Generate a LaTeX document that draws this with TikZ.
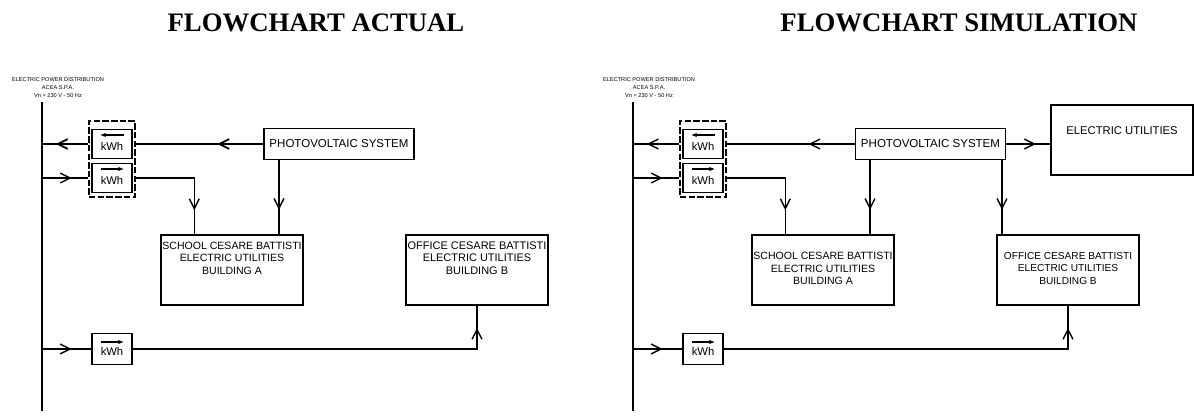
\documentclass[tikz,border=0pt]{standalone}
\usepackage{fontspec}
\setmainfont{Liberation Sans}
\newfontfamily\titlefont{Liberation Serif}
\usetikzlibrary{arrows.meta,positioning,calc,decorations.markings}
\newcommand{\px}{0.025cm}
\begin{document}
\begin{tikzpicture}[
    x=0.025cm, y=-0.025cm,
    title/.style={font=\titlefont\bfseries\fontsize{19}{22}\selectfont},
    source/.style={align=center, inner sep=0, font=\fontsize{4}{6}\selectfont},
    box/.style={draw, line width=1pt, inner sep=0},
    meter/.style={box, minimum width=40*\px, minimum height=29.5*\px, font=\fontsize{8}{9}\selectfont, text depth=0pt, text height=9.4pt},
    panel/.style={draw, line width=1pt, dash pattern=on 4.6pt off 1.6pt, inner sep=0, minimum width=46*\px, minimum height=76*\px},
    load/.style={box, minimum width=142*\px, minimum height=70*\px},
    loadtext/.style={align=center, inner sep=0, font=\fontsize{7.5}{8.9}\selectfont},
    pv/.style={box, minimum width=150*\px, minimum height=31*\px, font=\fontsize{8.2}{9}\selectfont},
    wire/.style={line width=1pt},
    tick/.style={-{Stealth[length=4pt,width=3pt]}, line width=0.8pt},
    flow/.style={wire, postaction={decorate}, decoration={markings, mark=at position #1 with {\arrow{Straight Barb[length=7pt,width=7pt]}}}},
  ]
  \useasboundingbox (0,0) rectangle (1194,416);

  \node[title] (titleL) at (316,23) {FLOWCHART ACTUAL};
  \node[title] (titleR) at (959,23) {FLOWCHART SIMULATION};

  % common part of both flowcharts
  \foreach \s/\dx/\ty/\w/\fs in {L/0/258/1.3pt/7.8, R/591/268.5/1pt/7.2} {
    \node[source] (src\s) at (\dx+58,87.5) {ELECTRIC POWER DISTRIBUTION\\ACEA S.P.A.\\Vn = 230 V - 50 Hz};
    \coordinate (top\s) at (\dx+42,102);
    \coordinate (bot\s) at (\dx+42,411);
    \draw[line width=1.3pt] (top\s) -- (bot\s);

    \node[panel] (dash\s) at (\dx+112,159) {};
    \node[meter] (out\s) at (\dx+112,144) {kWh};
    \node[meter] (in\s) at (\dx+112,178) {kWh};
    \node[meter, minimum height=31*\px] (net\s) at (\dx+112,349) {kWh};
    \draw[tick] ($(out\s.center)+(11.5,-9)$) -- ($(out\s.center)+(-11.5,-9)$);
    \draw[tick] ($(in\s.center)+(-11.5,-9)$) -- ($(in\s.center)+(11.5,-9)$);
    \draw[tick] ($(net\s.center)+(-11.5,-7)$) -- ($(net\s.center)+(11.5,-7)$);

    \node[load] (schl\s) at (\dx+232,270) {};
    \node[load] (offc\s) at (\dx+477,270) {};
    \node[loadtext] (schlT\s) at (\dx+232,\ty) {SCHOOL CESARE BATTISTI\\ELECTRIC UTILITIES\\BUILDING A};
    \node[loadtext, font=\fontsize{\fs}{8.9}\selectfont] (offcT\s) at (\dx+477,\ty) {OFFICE CESARE BATTISTI\\ELECTRIC UTILITIES\\BUILDING B};

    \draw[flow=.70, line width=\w] (dash\s.west |- out\s.west) -- (top\s |- out\s.west);
    \draw[flow=.64] (top\s |- in\s.west) -- (dash\s.west |- in\s.west);
    \draw[flow=.79] (dash\s.east |- in\s.east) -| ($(schl\s.north west)+(34,0)$);
    \draw[flow=.60] (top\s |- net\s.west) -- (net\s.west);
    \draw[flow=.943] (net\s.east) -| (offc\s.south);
  }

  % left flowchart
  \node[pv] (pvL) at (339,144) {PHOTOVOLTAIC SYSTEM};
  \draw[flow=.36, line width=1.3pt] (pvL.west) -- (dashL.east |- pvL.west);
  \draw[flow=.67] (pvL.south -| 279,0) -- (schlL.north -| 279,0);

  % right flowchart
  \node[pv, line width=1.3pt] (pvR) at (930.5,144) {PHOTOVOLTAIC SYSTEM};
  \node[box, minimum width=142*\px, minimum height=70*\px] (util) at (1122,140) {};
  \node[inner sep=0, font=\fontsize{8}{9}\selectfont] (utilT) at (1122,131) {ELECTRIC UTILITIES};
  \draw[flow=.36] (pvR.west) -- (dashR.east |- pvR.west);
  \draw[flow=.67] (pvR.east) -- (util.west |- pvR.east);
  \draw[flow=.67] (pvR.south -| 870,0) -- (schlR.north -| 870,0);
  \draw[flow=.67] (pvR.south -| 1002,0) -- (offcR.north -| 1002,0);
\end{tikzpicture}
\end{document}
